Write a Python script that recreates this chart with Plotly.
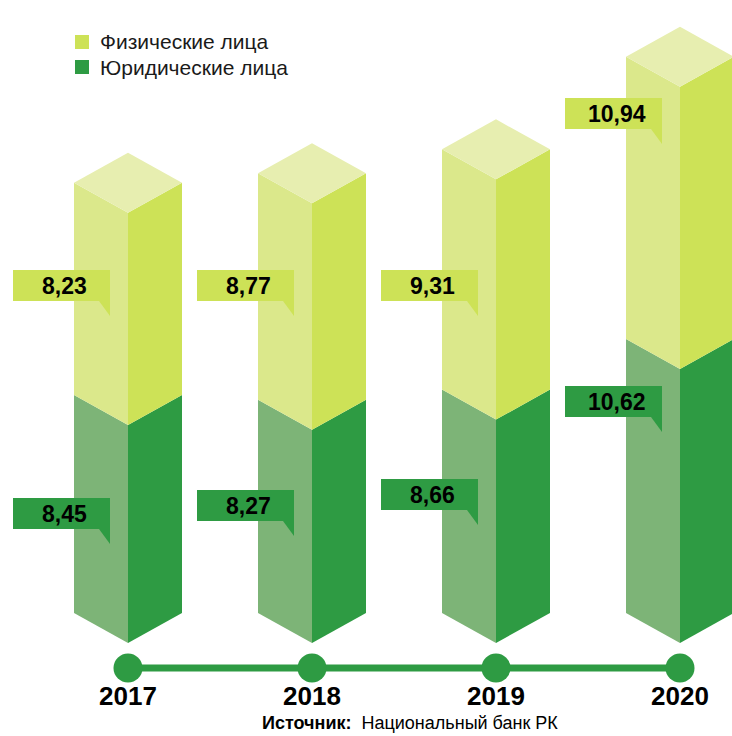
import plotly.graph_objects as go

# --- Dados (трлн тенге) ---
years = ['2017', '2018', '2019', '2020']
fiz_values = [8.23, 8.77, 9.31, 10.94]   # Физические лица
yur_values = [8.45, 8.27, 8.66, 10.62]   # Юридические лица
legend_names = ['Физические лица', 'Юридические лица']
source_label = 'Источник:'
source_text = 'Национальный банк РК'

# --- Cores ---
LIME_RIGHT = '#cde257'
LIME_LEFT = '#dbe88b'
LIME_TOP = '#e7eeb0'
GREEN_RIGHT = '#2e9b43'
GREEN_LEFT = '#7db477'
FONT = 'Liberation Sans, Arial, sans-serif'

# --- Geometria (pixels da figura) ---
W, H = 732, 736
X0_PX, STEP_PX = 128, 184        # posição do primeiro ano e passo entre anos
BASE_PX, UNIT_PX = 643, 25.8     # base das barras e pixels por unidade
HALF = 54 / STEP_PX              # meia largura da barra (unidades x)
DEPTH = 30 / UNIT_PX             # deslocamento isométrico (unidades y)

# posições (topo da caixa, px) das etiquetas
LIME_LABEL_TOP = [270, 270, 270, 98]
GREEN_LABEL_TOP = [498, 490, 479, 386]


def dx(px):
    return px / STEP_PX


def ypx(px):
    return (BASE_PX - px) / UNIT_PX


def poly(xs, ys, color):
    return go.Scatter(x=xs + [xs[0]], y=ys + [ys[0]], mode='lines', fill='toself',
                      fillcolor=color, line=dict(width=0, color=color),
                      hoverinfo='skip', showlegend=False)


fig = go.Figure()
shapes = []
annotations = []

for i, year in enumerate(years):
    c = i
    segments = [(0, yur_values[i], GREEN_LEFT, GREEN_RIGHT),
                (yur_values[i], yur_values[i] + fiz_values[i], LIME_LEFT, LIME_RIGHT)]
    for v0, v1, cl, cr in segments:
        # face esquerda
        fig.add_trace(poly([c - HALF, c, c, c - HALF],
                           [v0 + DEPTH, v0, v1, v1 + DEPTH], cl))
        # face direita
        fig.add_trace(poly([c, c + HALF, c + HALF, c],
                           [v0, v0 + DEPTH, v1 + DEPTH, v1], cr))
    total = yur_values[i] + fiz_values[i]
    fig.add_trace(poly([c - HALF, c, c + HALF, c],
                       [total + DEPTH, total, total + DEPTH, total + 2 * DEPTH], LIME_TOP))

    # etiquetas (caixa + ponta)
    for top_px, val, col in [(LIME_LABEL_TOP[i], fiz_values[i], LIME_RIGHT),
                             (GREEN_LABEL_TOP[i], yur_values[i], GREEN_RIGHT)]:
        x1 = c - dx(18)
        x0 = x1 - dx(97)
        y_top = ypx(top_px)
        y_bot = ypx(top_px + 31)
        shapes.append(dict(type='rect', xref='x', yref='y', x0=x0, x1=x1, y0=y_bot, y1=y_top,
                           fillcolor=col, line=dict(width=0)))
        shapes.append(dict(type='path', xref='x', yref='y',
                           path=f'M {x1 - dx(11)},{y_bot} L {x1},{y_bot} L {x1},{ypx(top_px + 46)} Z',
                           fillcolor=col, line=dict(width=0)))
        annotations.append(dict(x=(x0 + x1) / 2 + dx(3), y=ypx(top_px + 15.5), xref='x', yref='y',
                                text=f'<b>{val:.2f}</b>'.replace('.', ','), showarrow=False,
                                font=dict(family=FONT, size=23, color='black')))

    # ano
    annotations.append(dict(x=c, y=ypx(696), xref='x', yref='y', text=f'<b>{year}</b>',
                            showarrow=False, font=dict(family=FONT, size=26, color='black')))

# linha do tempo
fig.add_trace(go.Scatter(x=list(range(len(years))), y=[ypx(668)] * len(years),
                         mode='lines+markers', line=dict(color=GREEN_RIGHT, width=7),
                         marker=dict(size=29, color=GREEN_RIGHT),
                         hoverinfo='skip', showlegend=False))

# legenda manual
for k, (name, col) in enumerate(zip(legend_names, [LIME_RIGHT, GREEN_RIGHT])):
    yc = 42 + 25 * k
    shapes.append(dict(type='rect', xref='paper', yref='paper',
                       x0=75 / W, x1=89 / W, y0=1 - (yc + 7) / H, y1=1 - (yc - 7) / H,
                       fillcolor=col, line=dict(width=0)))
    annotations.append(dict(x=98 / W, y=1 - yc / H, xref='paper', yref='paper', text=name,
                            xanchor='left', yanchor='middle', showarrow=False,
                            font=dict(family=FONT, size=21, color='#1a1a1a')))

# fonte
annotations.append(dict(x=410 / W, y=1 - 723 / H, xref='paper', yref='paper',
                        xanchor='center', yanchor='middle',
                        text=f'<b>{source_label}</b>&nbsp;&nbsp;{source_text}', showarrow=False,
                        font=dict(family=FONT, size=18, color='black')))

fig.update_layout(
    width=W, height=H,
    margin=dict(l=0, r=0, t=0, b=0),
    paper_bgcolor='white', plot_bgcolor='white',
    showlegend=False,
    xaxis=dict(range=[-dx(X0_PX), dx(W - X0_PX)], visible=False, fixedrange=True),
    yaxis=dict(range=[ypx(H), ypx(0)], visible=False, fixedrange=True),
    shapes=shapes,
    annotations=annotations,
)

# remove a margem padrão do <body> para a figura ocupar a janela inteira
fig.write_html('out.html', config={'displayModeBar': False},
               post_script="document.body.style.margin='0px';")
